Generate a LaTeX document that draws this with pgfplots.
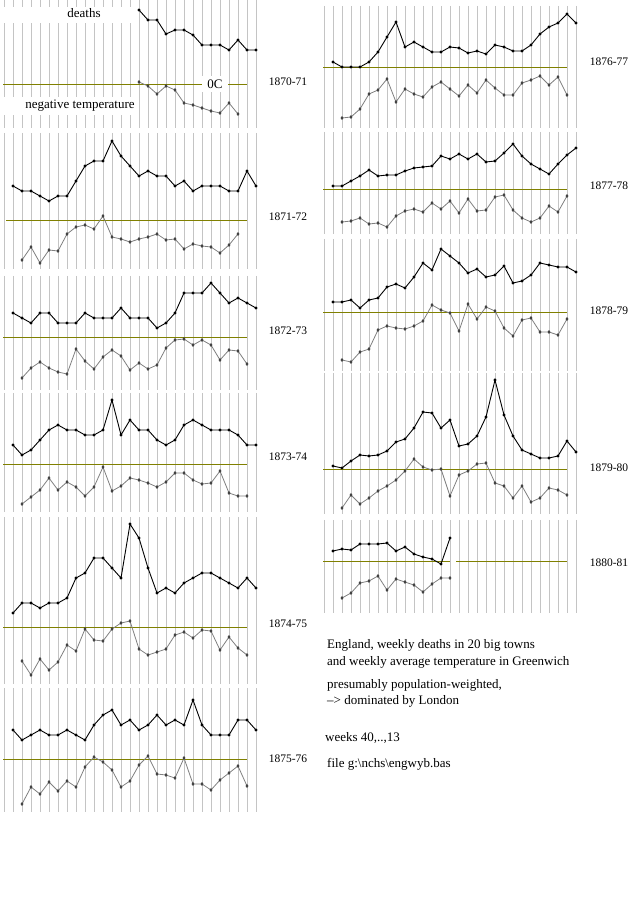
\documentclass[border=0pt]{standalone}
\usepackage{fontspec}
\setmainfont{Liberation Serif}
\usepackage{pgfplots}
\pgfplotsset{compat=1.18}
\definecolor{olivel}{HTML}{808000}
\definecolor{gridc}{HTML}{C4C4C4}
\definecolor{tempc}{HTML}{808080}
\definecolor{tempm}{HTML}{404040}
\pgfplotsset{
  deaths/.style={black, line width=0.9pt, mark=*, mark size=1.1pt, mark options={solid,fill=black}},
  temp/.style={tempc, line width=0.8pt, mark=diamond*, mark size=1.3pt, mark options={solid,draw=tempm,fill=tempm}},
  zero/.style={olivel, line width=1pt, no marks},
}
% #1 style, #2 x of week 0, #3 first week index, #4 y values (pixels from top)
\newcommand{\ser}[4]{%
  \addplot[#1] table[header=false, row sep=\\, x expr={#2+9*(\coordindex+#3)}, y index=0] {#4\\};}
\begin{document}
\begin{tikzpicture}
\path[use as bounding box] (0,0) rectangle (640pt,900pt);
\fill[white] (0,0) rectangle (640pt,900pt);
\begin{scope}[x=1pt,y=-1pt,yshift=900pt]
  \foreach \a/\b in {0/128,133/269,276/390,393/512,517/684,688/812}{
    \foreach \k in {0,...,28}{\draw[gridc,line width=1pt] ({4+9*\k},\a) -- ({4+9*\k},\b);}}
  \foreach \a/\b in {6/128,132/234,239/371,373/514,520/613}{
    \foreach \k in {0,...,28}{\draw[gridc,line width=1pt] ({324+9*\k},\a) -- ({324+9*\k},\b);}}
\end{scope}
\begin{axis}[at={(0,0)}, anchor=south west, width=640pt, height=900pt, scale only axis,
  xmin=0, xmax=640, ymin=0, ymax=900, y dir=reverse, hide axis, clip=false]
% zero-degree lines
\addplot[zero] coordinates {(3,84)(247,84)};
\addplot[zero] coordinates {(6,220)(247,220)};
\addplot[zero] coordinates {(3,337)(247,337)};
\addplot[zero] coordinates {(3,464)(247,464)};
\addplot[zero] coordinates {(3,627)(247,627)};
\addplot[zero] coordinates {(3,759)(247,759)};
\addplot[zero] coordinates {(323,67)(567,67)};
\addplot[zero] coordinates {(323,189)(567,189)};
\addplot[zero] coordinates {(323,312)(567,312)};
\addplot[zero] coordinates {(323,469)(567,469)};
\addplot[zero] coordinates {(323,561)(450,561)};
\addplot[zero] coordinates {(456,561)(567,561)};
% 1870-71
\ser{temp}{13}{14}{82\\86\\94\\86\\90\\103\\105\\108\\111\\113\\103\\114}
\ser{deaths}{13}{14}{10\\20\\20\\34\\30\\30\\35\\45\\45\\45\\50\\40\\50\\50}
% 1871-72
\ser{temp}{13}{1}{260\\247\\263\\250\\251\\234\\227\\225\\229\\216\\237\\239\\242\\239\\237\\234\\240\\239\\249\\244\\246\\247\\253\\245\\234}
\ser{deaths}{13}{0}{186\\191\\191\\196\\201\\196\\196\\181\\166\\161\\161\\141\\156\\166\\176\\171\\176\\176\\186\\181\\191\\186\\186\\186\\191\\191\\171\\186}
% 1872-73
\ser{temp}{13}{1}{378\\368\\362\\368\\372\\374\\349\\361\\369\\357\\350\\356\\370\\363\\369\\365\\348\\340\\339\\345\\340\\345\\360\\350\\351\\364}
\ser{deaths}{13}{0}{313\\318\\323\\313\\313\\323\\323\\323\\313\\318\\318\\318\\308\\318\\318\\318\\328\\323\\313\\293\\293\\293\\283\\293\\303\\298\\303\\308}
% 1873-74
\ser{temp}{13}{1}{504\\497\\490\\478\\490\\482\\487\\496\\487\\467\\491\\486\\478\\480\\483\\487\\482\\473\\473\\480\\484\\483\\471\\493\\496\\496}
\ser{deaths}{13}{0}{445\\455\\450\\440\\430\\425\\430\\430\\435\\435\\430\\400\\435\\420\\430\\430\\440\\445\\440\\425\\420\\425\\430\\430\\430\\435\\445\\445}
% 1874-75
\ser{temp}{13}{1}{661\\675\\659\\670\\662\\645\\651\\629\\640\\641\\629\\623\\621\\649\\655\\652\\649\\635\\632\\638\\630\\631\\650\\637\\648\\655}
\ser{deaths}{13}{0}{613\\603\\603\\608\\603\\603\\598\\578\\573\\558\\558\\568\\578\\524\\538\\568\\593\\588\\593\\583\\578\\573\\573\\578\\583\\588\\578\\588}
% 1875-76
\ser{temp}{13}{1}{804\\787\\794\\782\\791\\781\\787\\767\\757\\762\\770\\787\\781\\765\\756\\774\\775\\778\\758\\784\\784\\790\\780\\773\\766\\786}
\ser{deaths}{13}{0}{730\\740\\735\\730\\735\\735\\730\\735\\740\\725\\715\\710\\725\\720\\730\\725\\715\\725\\720\\725\\700\\725\\735\\735\\735\\720\\720\\730}
% 1876-77
\ser{temp}{333}{1}{118\\117\\109\\94\\90\\79\\102\\89\\94\\97\\87\\82\\89\\96\\85\\93\\80\\88\\95\\95\\83\\80\\76\\85\\77\\95}
\ser{deaths}{333}{0}{62\\67\\67\\67\\62\\52\\37\\22\\47\\42\\47\\52\\52\\47\\48\\53\\51\\54\\45\\47\\51\\51\\45\\34\\27\\23\\14\\23}
% 1877-78
\ser{temp}{333}{1}{222\\221\\218\\224\\223\\227\\216\\211\\209\\212\\203\\209\\201\\213\\199\\211\\210\\197\\195\\210\\218\\222\\218\\206\\212\\196}
\ser{deaths}{333}{0}{186\\186\\181\\176\\170\\176\\175\\175\\171\\168\\167\\166\\156\\159\\154\\159\\154\\162\\161\\153\\144\\156\\164\\169\\174\\164\\155\\148}
% 1878-79
\ser{temp}{333}{1}{360\\362\\352\\349\\330\\326\\328\\329\\326\\321\\305\\310\\313\\331\\304\\319\\307\\311\\328\\336\\320\\318\\332\\332\\335\\319}
\ser{deaths}{333}{0}{302\\302\\300\\308\\300\\298\\287\\284\\288\\277\\263\\270\\249\\256\\263\\273\\269\\277\\275\\266\\283\\281\\275\\263\\265\\267\\267\\272}
% 1879-80
\ser{temp}{333}{1}{508\\495\\504\\498\\491\\486\\480\\471\\459\\467\\470\\469\\496\\475\\471\\464\\463\\483\\486\\498\\486\\502\\498\\488\\490\\495}
\ser{deaths}{333}{0}{466\\468\\461\\455\\456\\455\\451\\442\\439\\428\\412\\413\\428\\420\\446\\444\\436\\417\\380\\415\\436\\450\\454\\458\\458\\456\\441\\452}
% 1880-81
\ser{temp}{333}{1}{598\\593\\583\\581\\576\\590\\579\\582\\585\\592\\584\\578\\578}
\ser{deaths}{333}{0}{551\\549\\550\\544\\544\\544\\543\\551\\547\\554\\557\\559\\564\\538}
\end{axis}
\begin{scope}[x=1pt,y=-1pt,yshift=900pt]
  \fill[white] (0,7) rectangle (133,23);
  \fill[white] (0,97) rectangle (133,115);
  \fill[white] (202,76) rectangle (228,92);
  \node[font=\fontsize{13}{15}\selectfont, inner sep=0pt] at (84,13) {deaths};
  \node[font=\fontsize{13}{15}\selectfont, inner sep=0pt] at (80,106) {negative temperature};
  \node[font=\fontsize{13}{15}\selectfont, inner sep=0pt] at (215,84) {0C};
  \begin{scope}[every node/.style={font=\fontsize{11.5}{13}\selectfont, inner sep=0pt}]
    \node at (288,82) {1870-71};
    \node at (288,217) {1871-72};
    \node at (288,331) {1872-73};
    \node at (288,457) {1873-74};
    \node at (288,624) {1874-75};
    \node at (288,759) {1875-76};
    \node at (609,62) {1876-77};
    \node at (609,186) {1877-78};
    \node at (609,311) {1878-79};
    \node at (609,468) {1879-80};
    \node at (609,563) {1880-81};
  \end{scope}
  \begin{scope}[every node/.style={font=\fontsize{13}{15}\selectfont, inner sep=0pt, anchor=base west}]
    \node at (327,649) {England, weekly deaths in 20 big towns};
    \node at (327,666) {and weekly average temperature in Greenwich};
    \node at (327,689) {presumably population-weighted,};
    \node at (327,705) {--{}> dominated by London};
    \node at (325,742) {weeks 40,..,13};
    \node at (327,768) {file g:\textbackslash nchs\textbackslash engwyb.bas};
  \end{scope}
\end{scope}
\end{tikzpicture}
\end{document}
